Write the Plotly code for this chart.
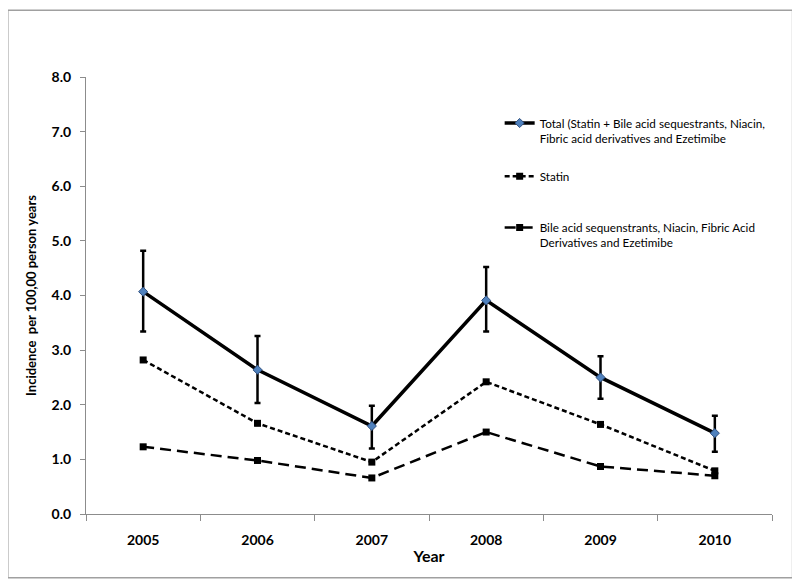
import plotly.graph_objects as go

years = ["2005", "2006", "2007", "2008", "2009", "2010"]
total = [4.07, 2.64, 1.61, 3.91, 2.50, 1.48]
total_err_plus = [0.75, 0.62, 0.37, 0.61, 0.39, 0.32]
total_err_minus = [0.73, 0.61, 0.41, 0.57, 0.39, 0.34]
statin = [2.82, 1.66, 0.95, 2.42, 1.64, 0.79]
bile = [1.23, 0.98, 0.66, 1.50, 0.87, 0.70]
y_ticks = [0, 1, 2, 3, 4, 5, 6, 7, 8]
y_tick_text = ["0.0", "1.0", "2.0", "3.0", "4.0", "5.0", "6.0", "7.0", "8.0"]

name_total = "Total (Statin + Bile acid sequestrants, Niacin,<br>Fibric acid derivatives and Ezetimibe"
name_statin = "Statin"
name_bile = "Bile acid sequenstrants, Niacin, Fibric Acid<br>Derivatives and Ezetimibe"

fig = go.Figure()
fig.add_trace(go.Scatter(
    x=years, y=bile, name=name_bile, mode="lines+markers",
    line=dict(color="black", width=2.5, dash="11px,6px"),
    marker=dict(symbol="square", size=7, color="black"),
    legend="legend3",
))
fig.add_trace(go.Scatter(
    x=years, y=statin, name=name_statin, mode="lines+markers",
    line=dict(color="black", width=2.5, dash="5px,3px"),
    marker=dict(symbol="square", size=7, color="black"),
    legend="legend2",
))
fig.add_trace(go.Scatter(
    x=years, y=total, name=name_total, mode="lines+markers",
    line=dict(color="black", width=3.5),
    marker=dict(symbol="diamond", size=7, color="#4f81bd",
                line=dict(color="#2f4f7f", width=1)),
    error_y=dict(type="data", array=total_err_plus, arrayminus=total_err_minus,
                 color="black", thickness=2.5, width=3),
    legend="legend",
))

legend_font = dict(family="Lato, sans-serif", size=11.7, color="black")
common_leg = dict(xanchor="left", yanchor="top", font=legend_font,
                  bgcolor="rgba(0,0,0,0)", valign="top", itemwidth=30)

fig.update_layout(
    width=792, height=579,
    paper_bgcolor="white", plot_bgcolor="white",
    margin=dict(l=78, r=28, t=69, b=73, autoexpand=False),
    showlegend=True,
    legend=dict(x=0.603, y=0.927, **common_leg),
    legend2=dict(x=0.603, y=0.805, **common_leg),
    legend3=dict(x=0.603, y=0.688, **common_leg),
    font=dict(family="Lato, sans-serif", color="black"),
    xaxis=dict(
        type="category", showgrid=False, showline=True, linecolor="#8c8c8c",
        linewidth=1, ticks="outside", tickson="boundaries", ticklen=6,
        tickcolor="#8c8c8c", ticklabelstandoff=13,
        tickfont=dict(family="Lato, sans-serif", size=14, color="black", weight="bold"),
        title=dict(text="<b>Year</b>", font=dict(size=16, family="Lato, sans-serif"), standoff=4),
        range=[-0.5, 5.5],
    ),
    yaxis=dict(
        range=[0, 8], tickvals=y_ticks, ticktext=y_tick_text,
        showgrid=False, showline=True, linecolor="#8c8c8c", linewidth=1,
        ticks="outside", ticklen=5, tickcolor="#8c8c8c", zeroline=False,
        tickfont=dict(family="Lato, sans-serif", size=14, color="black", weight="bold"),
        ticklabelstandoff=6,
        title=dict(text="<b>Incidence  per 100,00 person years</b>",
                   font=dict(size=13, family="Lato, sans-serif"), standoff=12),
    ),
    shapes=[dict(type="rect", xref="paper", yref="paper",
                 x0=-0.114, x1=1.030, y0=-0.146, y1=1.153,
                 line=dict(color="#a0a0a0", width=1.5), fillcolor="rgba(0,0,0,0)")],
)

fig.write_html("out.html")
